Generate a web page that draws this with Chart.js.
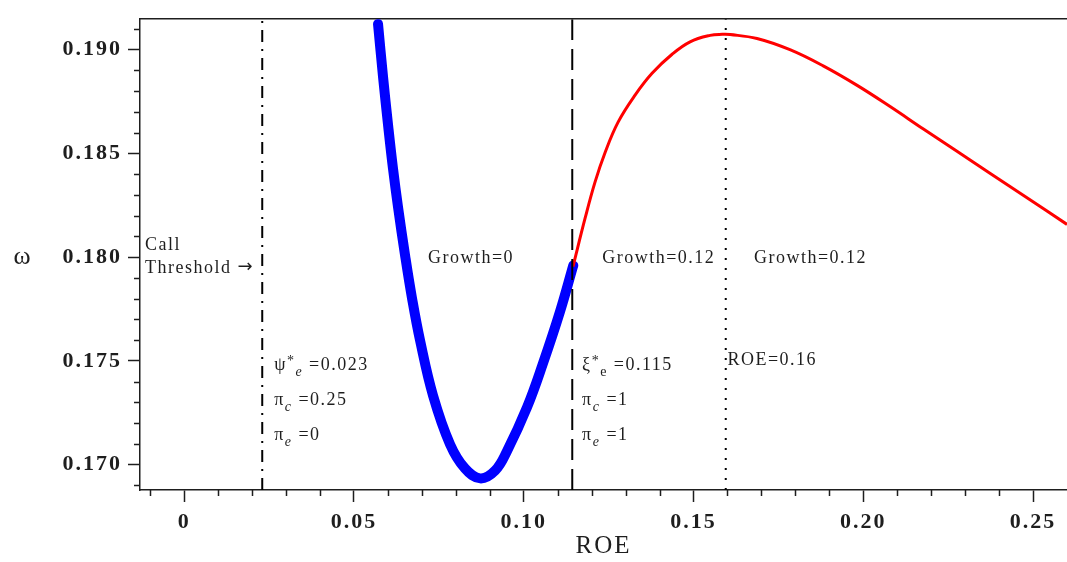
<!DOCTYPE html>
<html>
<head>
<meta charset="utf-8">
<script src="https://cdn.jsdelivr.net/npm/chart.js@4.4.1/dist/chart.umd.min.js"></script>
<style>
  html, body { margin: 0; padding: 0; background: #fff; }
  canvas { display: block; }
</style>
</head>
<body>
<canvas id="roeChart" width="1067" height="562"></canvas>
<script>
// --- data ---
const roeBlue   = [0.0571, 0.0586, 0.0601, 0.0615, 0.0630, 0.0651, 0.0671, 0.0695, 0.0733, 0.0783, 0.0827, 0.0872, 0.0916, 0.0951, 0.1010, 0.1057, 0.1107, 0.1146];
const omegaBlue = [0.19124, 0.18865, 0.18630, 0.18428, 0.18240, 0.18005, 0.17803, 0.17597, 0.17333, 0.17099, 0.16982, 0.16934, 0.16972, 0.17066, 0.17277, 0.17489, 0.17738, 0.17960];

const roeRed   = [0.1145, 0.1181, 0.1210, 0.1240, 0.1278, 0.1328, 0.1378, 0.1437, 0.1490, 0.1549, 0.1585, 0.1608, 0.1687, 0.1784, 0.1882, 0.1982, 0.2079, 0.2176, 0.2276, 0.2373, 0.2471, 0.2600];
const omegaRed = [0.17954, 0.18189, 0.18362, 0.18506, 0.18651, 0.18781, 0.18886, 0.18978, 0.19038, 0.19069, 0.19074, 0.19073, 0.19054, 0.19000, 0.18922, 0.18828, 0.18726, 0.18619, 0.18510, 0.18405, 0.18299, 0.18158];

// vertical markers: call threshold, xi*, ROE peak
const markerROE = [0.023, 0.1143, 0.1595];

const xTickValues = [0, 0.05, 0.10, 0.15, 0.20, 0.25];
const xTickLabels = ["0", "0.05", "0.10", "0.15", "0.20", "0.25"];
const yTickValues = [0.170, 0.175, 0.180, 0.185, 0.190];
const yTickLabels = ["0.170", "0.175", "0.180", "0.185", "0.190"];

const X_MIN = -0.013, X_MAX = 0.26;
const Y_MIN = 0.16878, Y_MAX = 0.19147;

const INK = "#1e1e1e";
const SERIF = '"Liberation Serif", "DejaVu Serif", serif';

// text notes (anchored in data coordinates)
const notes = [
  { roe: -0.0115, omega: 0.18057, parts: [{ t: "Call" }] },
  { roe: -0.0115, omega: 0.17945, parts: [{ t: "Threshold " }, { t: "\u2192", arrow: true }] },
  { roe: 0.0718, omega: 0.17996, parts: [{ t: "Growth=0" }] },
  { roe: 0.1231, omega: 0.17996, parts: [{ t: "Growth=0.12" }] },
  { roe: 0.1678, omega: 0.17996, parts: [{ t: "Growth=0.12" }] },
  { roe: 0.0265, omega: 0.17480, parts: [{ t: "\u03c8" }, { t: "*", sup: true }, { t: "e", sub: true, italic: true }, { t: " =0.023" }] },
  { roe: 0.0265, omega: 0.17310, parts: [{ t: "\u03c0" }, { t: "c", sub: true, italic: true }, { t: " =0.25" }] },
  { roe: 0.0265, omega: 0.17141, parts: [{ t: "\u03c0" }, { t: "e", sub: true, italic: true }, { t: " =0" }] },
  { roe: 0.1172, omega: 0.17480, parts: [{ t: "\u03be" }, { t: "*", sup: true }, { t: "e", sub: true }, { t: " =0.115" }] },
  { roe: 0.1172, omega: 0.17310, parts: [{ t: "\u03c0" }, { t: "c", sub: true, italic: true }, { t: " =1" }] },
  { roe: 0.1172, omega: 0.17141, parts: [{ t: "\u03c0" }, { t: "e", sub: true, italic: true }, { t: " =1" }] },
  { roe: 0.1600, omega: 0.17503, parts: [{ t: "ROE=0.16" }] }
];

function toPoints(xs, ys) {
  return xs.map((x, i) => ({ x: x, y: ys[i] }));
}

function markerLine(v, dash, order) {
  return {
    data: [{ x: v, y: Y_MIN }, { x: v, y: Y_MAX }],
    borderColor: "#000",
    borderWidth: 2,
    borderDash: dash,
    pointRadius: 0,
    order: order
  };
}

// --- plugins ---
const letterSpacingPlugin = {
  id: "letterSpacing",
  beforeDraw(chart) {
    chart.ctx.letterSpacing = "2px";
  }
};

const minorTicksPlugin = {
  id: "minorTicks",
  afterDraw(chart) {
    const ctx = chart.ctx;
    const xs = chart.scales.x, ys = chart.scales.y;
    const area = chart.chartArea;
    ctx.save();
    ctx.strokeStyle = INK;
    ctx.lineWidth = 1.5;
    ctx.beginPath();
    for (let i = -1; i <= 26; i++) {
      if (i % 5 === 0) continue;
      const px = Math.round(xs.getPixelForValue(i / 100)) + 0.5;
      if (px < area.left || px > area.right) continue;
      ctx.moveTo(px, area.bottom);
      ctx.lineTo(px, area.bottom + 6);
    }
    for (let i = 168; i <= 192; i++) {
      if (i % 5 === 0) continue;
      const py = Math.round(ys.getPixelForValue(i / 1000)) + 0.5;
      if (py < area.top || py > area.bottom) continue;
      ctx.moveTo(area.left, py);
      ctx.lineTo(area.left - 6, py);
    }
    ctx.stroke();
    ctx.restore();
  }
};

const notesPlugin = {
  id: "notes",
  afterDraw(chart) {
    const ctx = chart.ctx;
    const xs = chart.scales.x, ys = chart.scales.y;
    const size = 18;
    ctx.save();
    ctx.fillStyle = INK;
    ctx.textBaseline = "middle";
    ctx.textAlign = "left";
    notes.forEach(n => {
      let cx = xs.getPixelForValue(n.roe);
      const cy = ys.getPixelForValue(n.omega);
      n.parts.forEach(p => {
        const fs = (p.sub || p.sup) ? Math.round(size * 0.8) : size;
        ctx.letterSpacing = p.arrow ? "0px" : "1.5px";
        ctx.font = (p.italic ? "italic " : "") + fs + "px " + (p.arrow ? '"DejaVu Sans", sans-serif' : SERIF);
        let dy = 0;
        if (p.sub) dy = size * 0.38;
        if (p.sup) dy = -size * 0.2;
        if (p.arrow) dy = -1;
        ctx.fillText(p.t, cx, cy + dy);
        cx += ctx.measureText(p.t).width;
      });
    });
    // omega axis symbol, kept upright
    ctx.font = "26px " + SERIF;
    ctx.letterSpacing = "0px";
    ctx.textAlign = "center";
    ctx.fillText("\u03c9", 22, ys.getPixelForValue(0.180));
    ctx.restore();
  }
};

const ctx = document.getElementById("roeChart").getContext("2d");
new Chart(ctx, {
  type: "line",
  data: {
    datasets: [
      markerLine(markerROE[0], [12, 7, 2, 7], 0),
      markerLine(markerROE[1], [21, 9], 0),
      markerLine(markerROE[2], [2, 8], 0),
      {
        data: toPoints(roeRed, omegaRed),
        borderColor: "#ff0000",
        borderWidth: 3,
        pointRadius: 0,
        tension: 0.4,
        order: 1
      },
      {
        data: toPoints(roeBlue, omegaBlue),
        borderColor: "#0000ff",
        borderWidth: 10,
        borderCapStyle: "round",
        pointRadius: 0,
        tension: 0.4,
        order: 2
      }
    ]
  },
  options: {
    responsive: false,
    animation: false,
    devicePixelRatio: 1,
    layout: { padding: 0 },
    plugins: {
      legend: { display: false },
      tooltip: { enabled: false }
    },
    scales: {
      x: {
        type: "linear",
        position: "bottom",
        min: X_MIN,
        max: X_MAX,
        afterBuildTicks: s => { s.ticks = xTickValues.map(v => ({ value: v })); },
        afterFit: s => { s.height = 72; },
        grid: { drawOnChartArea: false, drawTicks: true, tickLength: 12, tickColor: INK, tickWidth: 1.5 },
        border: { display: true, color: INK, width: 1.5 },
        ticks: {
          color: INK,
          padding: 7,
          maxRotation: 0,
          autoSkip: false,
          font: { family: SERIF, size: 22, weight: "bold" },
          callback: (v) => {
            const i = xTickValues.findIndex(t => Math.abs(t - v) < 1e-9);
            return i >= 0 ? xTickLabels[i] : "";
          }
        },
        title: {
          display: true,
          text: "ROE",
          color: INK,
          font: { family: SERIF, size: 25 },
          padding: { top: 0, bottom: 1 }
        }
      },
      x2: {
        type: "linear",
        position: "top",
        min: X_MIN,
        max: X_MAX,
        afterFit: s => { s.height = 7; },
        grid: { display: false, drawTicks: false },
        border: { display: true, color: INK, width: 1.5 },
        ticks: { display: false }
      },
      y: {
        type: "linear",
        position: "left",
        min: Y_MIN,
        max: Y_MAX,
        afterBuildTicks: s => { s.ticks = yTickValues.map(v => ({ value: v })); },
        afterFit: s => { s.width = 140; },
        grid: { drawOnChartArea: false, drawTicks: true, tickLength: 12, tickColor: INK, tickWidth: 1.5 },
        border: { display: true, color: INK, width: 1.5 },
        ticks: {
          color: INK,
          padding: 6,
          autoSkip: false,
          font: { family: SERIF, size: 22, weight: "bold" },
          callback: (v) => {
            const i = yTickValues.findIndex(t => Math.abs(t - v) < 1e-9);
            return i >= 0 ? yTickLabels[i] : "";
          }
        }
      }
    }
  },
  plugins: [letterSpacingPlugin, minorTicksPlugin, notesPlugin]
});
</script>
</body>
</html>
